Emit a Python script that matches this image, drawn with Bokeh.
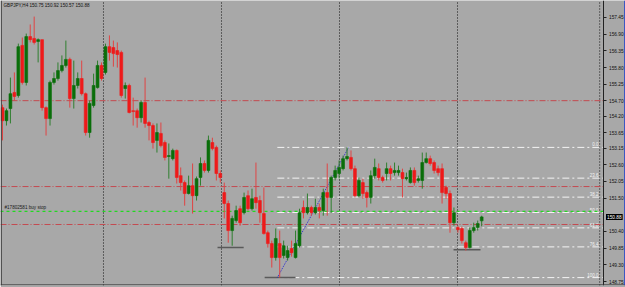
from bokeh.plotting import figure
from bokeh.models import Range1d, FixedTicker, Label, NumeralTickFormatter, ColumnDataSource, LinearAxis, Span
from bokeh.core.properties import value
from bokeh.embed import file_html
from bokeh.resources import INLINE

symbol = "GBPJPY,H4"

opens = [154.48, 154.05, 154.45, 154.98, 154.88, 156.53, 155.31, 156.82, 156.76, 156.66,
         156.72, 154.48, 154.12, 155.31, 155.44, 155.70, 155.87, 156.07, 154.78, 155.21,
         155.44, 154.94, 153.66, 154.55, 155.14, 155.87, 155.64, 156.49, 156.46, 156.36,
         156.30, 155.11, 155.21, 154.38, 154.38, 154.15, 154.65, 153.99, 153.89, 153.40,
         153.63, 153.33, 152.87, 152.80, 153.07, 152.24, 152.01, 151.65, 151.91, 151.58,
         152.18, 152.64, 152.41, 153.33, 153.17, 152.31, 151.68, 151.32, 150.43, 150.76,
         151.15, 151.02, 151.58, 151.15, 151.52, 151.42, 150.99, 150.36, 150.00, 149.54,
         150.00, 149.61, 149.54, 149.84, 149.54, 149.93, 151.19, 151.02, 151.19, 151.02,
         151.19, 151.09, 151.68, 151.52, 152.18, 152.31, 152.47, 152.80, 152.84, 152.47,
         151.58, 152.01, 151.68, 151.52, 152.24, 152.47, 152.18, 152.31, 152.47, 152.34,
         152.34, 152.34, 152.14, 152.01, 152.41, 152.08, 152.08, 152.67, 152.80, 152.67,
         152.47, 152.47, 151.85, 151.65, 150.69, 150.53, 150.50, 150.03, 149.87, 150.43,
         150.53, 150.75]

closes = [154.05, 154.38, 154.94, 154.85, 156.49, 155.31, 156.82, 156.72, 156.63, 156.72,
          154.48, 154.12, 155.31, 155.44, 155.70, 155.87, 156.07, 154.78, 155.21, 155.44,
          154.94, 153.66, 154.62, 155.21, 155.87, 155.44, 156.49, 156.30, 156.26, 156.23,
          154.88, 155.21, 154.32, 154.35, 154.15, 154.65, 153.96, 153.89, 153.33, 153.66,
          153.23, 152.84, 152.90, 153.07, 152.18, 152.01, 151.65, 151.91, 151.58, 152.14,
          152.64, 152.41, 153.40, 153.13, 152.31, 152.18, 151.32, 150.43, 150.83, 151.09,
          150.69, 151.52, 151.15, 151.48, 151.35, 151.02, 150.33, 150.00, 149.54, 150.17,
          149.54, 149.93, 149.77, 149.70, 150.00, 151.02, 151.02, 151.19, 151.02, 151.19,
          151.09, 151.68, 151.52, 152.18, 152.41, 152.51, 152.80, 152.87, 152.47, 151.58,
          152.08, 151.65, 151.52, 152.24, 152.51, 152.18, 152.08, 152.47, 152.31, 152.41,
          152.41, 152.14, 152.18, 152.41, 152.01, 152.14, 152.67, 152.80, 152.64, 152.41,
          152.34, 151.68, 151.65, 150.69, 151.02, 150.46, 150.10, 149.87, 150.43, 150.53,
          150.66, 150.88]

highs = [154.58, 154.45, 155.47, 155.64, 156.59, 156.79, 156.92, 157.22, 157.48, 156.76,
         156.72, 154.52, 155.37, 155.64, 155.97, 156.20, 156.69, 156.13, 156.03, 155.64,
         156.03, 154.98, 154.71, 155.60, 156.03, 155.97, 156.59, 156.86, 156.69, 156.63,
         156.36, 155.31, 155.27, 154.81, 154.45, 154.71, 155.47, 154.05, 153.96, 153.96,
         153.99, 153.40, 153.30, 153.13, 153.10, 152.51, 152.08, 152.24, 152.64, 152.21,
         152.84, 152.74, 153.56, 153.49, 153.23, 152.41, 152.01, 151.42, 150.92, 151.25,
         151.25, 151.68, 151.75, 151.81, 152.67, 151.58, 151.85, 150.43, 150.10, 150.50,
         150.43, 150.10, 149.93, 150.10, 150.43, 151.15, 151.42, 151.65, 151.25, 151.48,
         151.32, 151.81, 152.64, 152.24, 152.57, 152.74, 152.90, 153.17, 153.07, 152.57,
         152.18, 152.14, 151.75, 152.41, 152.80, 152.64, 152.24, 152.67, 152.57, 152.67,
         152.57, 152.47, 152.34, 152.51, 152.51, 152.24, 153.00, 153.00, 152.90, 152.74,
         152.57, 152.64, 151.91, 151.75, 151.19, 150.59, 150.56, 150.10, 150.53, 150.69,
         150.76, 150.92]

lows = [153.40, 153.89, 153.96, 154.71, 154.81, 155.24, 155.21, 156.63, 156.56, 155.97,
        154.38, 153.56, 153.89, 155.24, 155.37, 155.64, 155.80, 154.48, 154.45, 155.11,
        154.88, 153.56, 153.49, 154.48, 155.11, 155.37, 155.57, 156.03, 155.83, 155.80,
        154.81, 154.78, 154.29, 153.89, 153.82, 153.99, 153.82, 153.40, 153.13, 153.00,
        153.17, 152.74, 152.14, 152.74, 151.98, 151.75, 151.25, 151.62, 150.99, 151.42,
        151.91, 152.34, 152.34, 153.07, 152.08, 152.01, 150.83, 150.03, 149.93, 150.69,
        150.59, 150.96, 151.09, 151.09, 151.15, 150.69, 150.30, 149.87, 149.21, 149.44,
        148.88, 149.51, 149.44, 149.57, 149.51, 149.87, 150.83, 150.96, 150.92, 150.96,
        150.83, 150.92, 150.92, 151.02, 152.08, 152.14, 152.41, 152.74, 152.41, 151.52,
        151.52, 151.48, 151.19, 151.32, 152.14, 152.08, 152.01, 152.08, 152.08, 152.24,
        152.24, 151.52, 152.08, 151.98, 151.91, 152.01, 151.81, 152.64, 152.57, 152.31,
        152.24, 151.32, 151.48, 150.36, 150.59, 150.36, 150.00, 149.77, 149.84, 150.36,
        150.43, 150.57]

# period separators (bar positions)
week_starts = [25.5, 55.3, 85.1, 114.9]
vline_bar = 150.8

# horizontal levels
red_levels = [154.71, 151.88, 150.63]
buy_stop_price = 151.06
buy_stop_text = "#17802581 buy stop"

# fibonacci retracement (low -> high)
fib_low = 148.88
fib_high = 153.17
fib_start_bar = 69.4
fib_end_bar = 87.4
fib_ratios = [0.0, 23.6, 38.2, 50.0, 61.8, 76.4, 100.0]
fib_labels = ["0.0", "23.6", "38.2", "50.0", "61.8", "76.4", "100.0"]

# short gray support marks: (start bar, end bar, price)
marks_x0 = [54.3, 66.2, 113.9]
marks_x1 = [60.9, 74.0, 120.7]
marks_y = [149.87, 148.88, 149.80]

tick_values = [157.45, 156.90, 156.35, 155.80, 155.25, 154.70, 154.20, 153.65,
               153.15, 152.60, 152.05, 151.50, 150.40, 149.85, 149.30, 148.75]

n = len(opens)
bars = list(range(n))
bull = [c >= o for o, c in zip(opens, closes)]

def subset(flag):
    ids = [i for i in bars if bull[i] == flag]
    return ColumnDataSource(dict(
        x=ids,
        top=[max(opens[i], closes[i]) for i in ids],
        bottom=[min(opens[i], closes[i]) for i in ids],
        high=[highs[i] for i in ids],
        low=[lows[i] for i in ids],
    ))

bg = "#a8a8a8"
x_lo, x_hi = -0.505, 157.32      # full window width
x_axis_at = 151.89               # price scale position
y_lo, y_hi = 148.62, 158.01

p = figure(width=625, height=287, x_range=Range1d(x_lo, x_hi), y_range=Range1d(y_lo, y_hi),
           output_backend="svg", toolbar_location=None, y_axis_location=None,
           x_axis_location=None, min_border_left=0, min_border_top=0,
           min_border_bottom=2, min_border_right=0,
           background_fill_color=bg, border_fill_color=bg)
p.grid.visible = False
p.outline_line_color = None

ax = LinearAxis(fixed_location=x_axis_at)
ax.ticker = FixedTicker(ticks=tick_values)
ax.formatter = NumeralTickFormatter(format="0.00")
ax.axis_line_color = "#222222"
ax.major_tick_line_color = "#222222"
ax.major_tick_out = 3
ax.major_tick_in = 0
ax.minor_tick_out = 0
ax.minor_tick_in = 0
ax.major_label_standoff = 2
ax.major_label_text_font = "Liberation Sans"
ax.major_label_text_font_size = "4.8px"
ax.major_label_text_color = "#111111"
p.add_layout(ax, "right")

# frame borders
p.add_layout(Span(location=x_lo + 0.2, dimension="height", line_color="#3a3a3a", line_width=1))
p.add_layout(Span(location=y_lo + 0.02, dimension="width", line_color="#3a3a3a", line_width=1))
p.add_layout(Span(location=x_hi - 0.15, dimension="height", line_color="#2a48c8", line_width=1.5))

# separators
p.segment(x0=week_starts, x1=week_starts, y0=[y_lo] * 4, y1=[y_hi] * 4,
          line_color="#111111", line_dash="1 2", line_width=1)
p.segment(x0=[vline_bar], x1=[vline_bar], y0=[y_lo], y1=[y_hi],
          line_color="#111111", line_dash="1 2", line_width=1)

# fib levels
fib_prices = [fib_high - r / 100.0 * (fib_high - fib_low) for r in fib_ratios]
p.segment(x0=[fib_start_bar] * len(fib_prices), x1=[x_axis_at] * len(fib_prices),
          y0=fib_prices, y1=fib_prices, line_color="#f4f4f4", line_dash="7 3 2 3", line_width=1)
p.text(x=[150.5] * len(fib_prices), y=fib_prices, text=fib_labels, text_align="right",
       text_baseline="bottom", text_font=value("Liberation Sans"), text_font_size="4.5px",
       text_color="#f4f4f4", y_offset=-1)

# red dash-dot lines
p.segment(x0=[x_lo] * 3, x1=[x_axis_at] * 3, y0=red_levels, y1=red_levels,
          line_color="#c44a50", line_dash="6 2 1 2", line_width=1)

# buy stop line
p.segment(x0=[x_lo], x1=[x_axis_at], y0=[buy_stop_price], y1=[buy_stop_price],
          line_color="#22d822", line_dash="3 3", line_width=1.2)

# support marks
p.segment(x0=marks_x0, x1=marks_x1, y0=marks_y, y1=marks_y, line_color="#5a5a5a", line_width=1.5)

# trend line
p.line(x=[fib_start_bar, fib_end_bar], y=[fib_low, fib_high], line_color="#2a2ad0",
       line_dash="1 1", line_width=1)

# candles
for flag, col, wick in ((True, "#0a6e0a", "#2f7f2f"), (False, "#ee1a1a", "#e04444")):
    src = subset(flag)
    p.segment(x0="x", x1="x", y0="low", y1="high", source=src, line_color=wick, line_width=1)
    p.vbar(x="x", top="top", bottom="bottom", width=0.72, source=src,
           fill_color=col, line_color=col, line_width=0.6)

# texts
p.add_layout(Label(x=3, y=280, x_units="screen", y_units="screen",
                   text=f"{symbol}  {opens[-1]:.2f} {highs[-1]:.2f} {lows[-1]:.2f} {closes[-1]:.2f}",
                   text_font="Liberation Sans", text_font_size="4.6px", text_color="#111111",
                   text_baseline="middle"))
p.add_layout(Label(x=0.5, y=buy_stop_price, x_units="data", y_units="data", text=buy_stop_text,
                   text_font="Liberation Sans", text_font_size="4.6px", text_color="#1a1a1a",
                   text_baseline="bottom", y_offset=1))
p.add_layout(Label(x=x_axis_at, y=closes[-1], x_units="data", y_units="data",
                   text=f"{closes[-1]:.2f}", text_font="Liberation Sans", text_font_size="4.8px",
                   text_color="white", background_fill_color="black", text_baseline="middle",
                   x_offset=2, padding=1))

open("out.html", "w").write(file_html(p, INLINE))
